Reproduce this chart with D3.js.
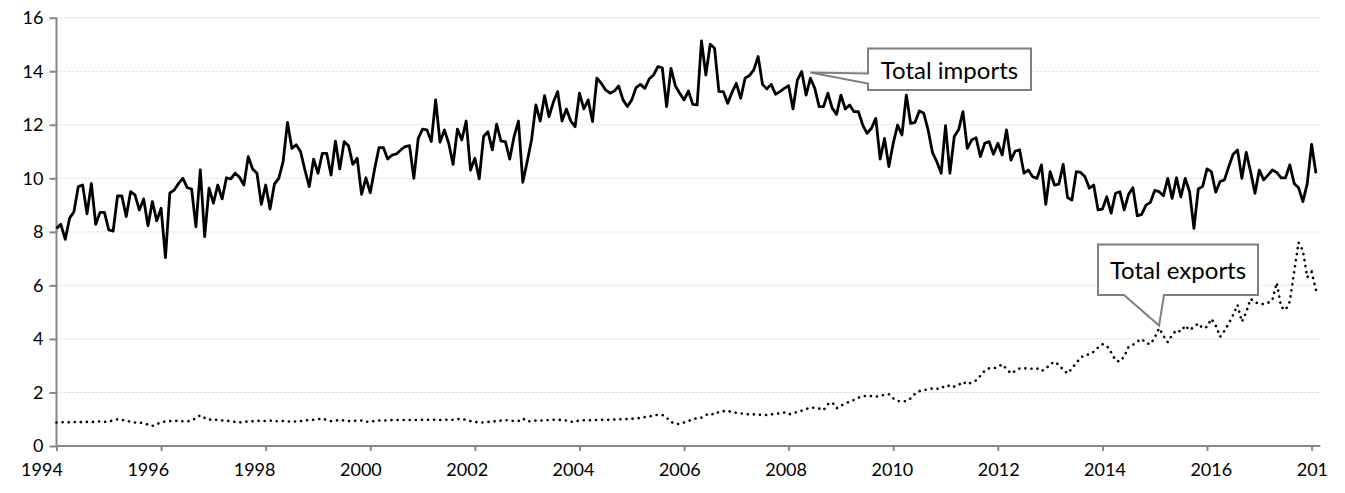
<!DOCTYPE html>
<html><head><meta charset="utf-8">
<script src="https://cdn.jsdelivr.net/npm/d3@7"></script>
<style>html,body{margin:0;padding:0;background:#fff;overflow:hidden}</style>
</head><body>
<script>
// Monthly data, Jan 1994 .. Feb 2018
const startYear = 1994;
const yTicks = [0,2,4,6,8,10,12,14,16];
const xTickYears = [1994,1996,1998,2000,2002,2004,2006,2008,2010,2012,2014,2016,2018];
const seriesNames = ["Total imports","Total exports"];
const imports = [
8.13,8.28,7.72,8.51,8.75,9.69,9.75,8.67,9.81,8.28,8.73,8.73,
8.07,8.03,9.34,9.34,8.57,9.50,9.38,8.82,9.23,8.23,9.13,8.41,
8.88,7.04,9.45,9.56,9.81,10.0,9.65,9.60,8.19,10.31,7.82,9.63,
9.07,9.75,9.23,10.02,9.98,10.19,10.04,9.75,10.81,10.35,10.19,9.03,
9.75,8.85,9.78,10.0,10.62,12.09,11.12,11.25,11.0,10.31,9.69,10.72,
10.19,10.93,10.93,10.12,11.39,10.35,11.37,11.22,10.52,10.75,9.40,10.02,
9.46,10.35,11.15,11.15,10.72,10.87,10.91,11.06,11.18,11.22,10.0,11.49,
11.84,11.81,11.37,12.93,11.35,11.81,11.31,10.52,11.84,11.43,12.14,10.31,
10.75,9.98,11.56,11.74,11.06,12.02,11.39,11.37,10.72,11.56,12.14,9.85,
10.62,11.43,12.74,12.14,13.09,12.30,12.84,13.24,12.14,12.59,12.14,11.93,
13.18,12.59,12.93,12.12,13.74,13.55,13.30,13.18,13.26,13.45,12.93,12.68,
12.93,13.39,13.51,13.36,13.71,13.86,14.17,14.13,12.68,14.11,13.46,13.18,
12.93,13.26,12.76,12.74,15.13,13.86,15.01,14.86,13.24,13.24,12.80,13.21,
13.55,12.99,13.74,13.84,14.05,14.55,13.51,13.34,13.51,13.14,13.24,13.36,
13.46,12.59,13.67,13.99,13.11,13.74,13.36,12.68,12.68,13.18,12.62,12.39,
13.11,12.59,12.74,12.49,12.49,11.99,11.68,11.87,12.24,10.72,11.49,10.44,
11.31,11.99,11.62,13.11,12.05,12.09,12.52,12.43,11.81,10.97,10.62,10.19,
11.97,10.19,11.56,11.81,12.49,11.12,11.43,11.52,10.81,11.31,11.37,10.90,
11.31,10.87,11.81,10.68,11.02,11.06,10.19,10.31,10.06,10.0,10.50,9.03,
10.25,9.75,9.78,10.52,9.28,9.19,10.25,10.22,10.06,9.63,9.75,8.82,
8.85,9.31,8.70,9.44,9.50,8.82,9.40,9.65,8.60,8.65,9.00,9.10,
9.55,9.50,9.35,10.0,9.25,10.02,9.30,10.0,9.50,8.13,9.60,9.70,
10.35,10.25,9.48,9.88,9.94,10.44,10.90,11.06,10.0,10.97,10.25,9.44,
10.31,9.94,10.12,10.31,10.22,10.02,10.02,10.50,9.81,9.65,9.13,9.80,
11.27,10.19
];
const exports = [
0.88,0.88,0.90,0.88,0.90,0.88,0.90,0.90,0.90,0.90,0.92,0.90,
0.92,0.95,1.00,0.97,0.95,0.90,0.88,0.88,0.85,0.80,0.75,0.82,
0.88,0.92,0.93,0.93,0.95,0.92,0.92,0.95,1.05,1.15,1.05,0.98,
1.00,0.97,0.95,0.95,0.92,0.90,0.88,0.90,0.92,0.92,0.93,0.95,
0.93,0.95,0.92,0.93,0.93,0.92,0.90,0.92,0.93,0.95,0.97,0.98,
1.00,1.03,0.97,0.93,0.95,0.97,0.95,0.93,0.93,0.95,0.95,0.90,
0.92,0.93,0.95,0.95,0.95,0.97,0.97,0.97,0.97,0.97,0.97,0.97,
0.98,0.98,0.98,0.98,0.97,0.98,0.98,0.98,1.00,1.02,0.97,0.93,
0.90,0.88,0.88,0.90,0.92,0.92,0.95,0.97,0.95,0.93,0.93,1.03,
0.92,0.93,0.95,0.95,0.95,0.97,0.98,0.98,0.97,0.95,0.90,0.92,
0.95,0.96,0.96,0.97,0.97,0.98,0.98,0.98,0.99,1.00,1.00,1.01,
1.02,1.03,1.05,1.08,1.10,1.15,1.16,1.16,1.06,0.90,0.83,0.82,
0.88,0.93,1.00,1.04,1.06,1.16,1.22,1.17,1.28,1.30,1.31,1.27,
1.24,1.22,1.19,1.18,1.18,1.17,1.16,1.16,1.18,1.20,1.22,1.25,
1.18,1.22,1.28,1.32,1.38,1.43,1.43,1.40,1.34,1.56,1.63,1.41,
1.51,1.58,1.66,1.72,1.81,1.85,1.88,1.86,1.84,1.88,1.91,1.93,
1.78,1.68,1.66,1.68,1.78,1.95,2.05,2.09,2.12,2.15,2.13,2.22,
2.18,2.28,2.22,2.28,2.40,2.30,2.38,2.45,2.62,2.82,2.90,2.90,
2.95,3.05,2.88,2.71,2.80,2.90,2.90,2.90,2.88,2.90,2.80,2.88,
3.05,3.15,3.03,2.85,2.71,2.90,3.10,3.30,3.40,3.42,3.52,3.68,
3.80,3.75,3.50,3.20,3.15,3.35,3.70,3.78,3.90,4.00,3.85,3.80,
4.05,4.40,4.12,3.88,4.15,4.33,4.27,4.50,4.33,4.45,4.58,4.40,
4.45,4.75,4.50,4.08,4.30,4.58,4.90,5.27,4.64,5.00,5.50,5.37,
5.32,5.30,5.35,5.45,6.10,5.20,5.08,5.40,6.50,7.60,7.30,6.30,
6.50,5.83
];
// callout anchors (month index) for the labels
const calloutIndex = [173, 253];

const W = 1327, H = 493;
const svg = d3.select("body").append("svg").attr("width", W).attr("height", H)
  .style("font-family","Lato, 'Open Sans', sans-serif");

const x = d3.scaleLinear().domain([0, 288]).range([56.5, 1311.6]);
const y = d3.scaleLinear().domain([0, 16]).range([446, 17.7]);
// year labels sit slightly offset from the tick marks in the original
const xLab = d3.scaleLinear().domain([1994, 2018]).range([42, 1317.6]);
const xEnd = x(290);

// gridlines
svg.append("g").selectAll("line").data(yTicks.filter(d=>d>0)).join("line")
  .attr("x1", x(0)).attr("x2", xEnd)
  .attr("y1", d=>y(d)).attr("y2", d=>y(d))
  .attr("stroke","#d4d4d4").attr("stroke-width",1).attr("stroke-dasharray","2,2");

// y axis
const yAxis = d3.axisLeft(y).tickValues(yTicks).tickSize(7).tickPadding(6).tickFormat(d3.format("d"));
const gy = svg.append("g").attr("transform",`translate(${x(0)},0)`).call(yAxis);
gy.select(".domain").remove();
gy.append("line").attr("x1",0).attr("x2",0).attr("y1",y(0)).attr("y2",y(16)).attr("stroke","#878787").attr("stroke-width",2);
gy.selectAll(".tick line").attr("stroke","#878787").attr("stroke-width",2);
gy.selectAll(".tick text").attr("fill","#000").style("font-size","18px").style("font-family","Lato, sans-serif");

// x axis (tick marks)
const xAxis = d3.axisBottom(x).tickValues(xTickYears.map(yr => (yr-startYear)*12))
  .tickSize(5).tickFormat("");
const gx = svg.append("g").attr("transform",`translate(0,${y(0)})`).call(xAxis);
gx.select(".domain").remove();
gx.append("line").attr("x1",x(0)).attr("x2",xEnd).attr("y1",0).attr("y2",0).attr("stroke","#878787").attr("stroke-width",2);
gx.selectAll(".tick line").attr("stroke","#878787").attr("stroke-width",2);
// x labels
svg.append("g").selectAll("text").data(xTickYears).join("text")
  .attr("x", d=>xLab(d)).attr("y", 476).attr("text-anchor","middle")
  .style("font-size","18px").attr("fill","#000").text(d=>String(d));

const line = d3.line().x((d,i)=>x(i)).y(d=>y(d));

svg.append("path").datum(exports).attr("d", line)
  .attr("fill","none").attr("stroke","#000").attr("stroke-width",2.6)
  .attr("stroke-linecap","round").attr("stroke-dasharray","0.1,6");

svg.append("path").datum(imports).attr("d", line)
  .attr("fill","none").attr("stroke","#000").attr("stroke-width",2.8)
  .attr("stroke-linejoin","round");

// callouts
function callout(bx, by, bw, bh, pts, text){
  const g = svg.append("g");
  const p = d3.path();
  pts(p, bx, by, bw, bh);
  g.append("path").attr("d", p.toString()).attr("fill","#fff").attr("stroke","#7f7f7f").attr("stroke-width",2);
  g.append("text").attr("x", bx+bw/2).attr("y", by+bh/2).attr("text-anchor","middle")
    .attr("dominant-baseline","central").style("font-size","24px").attr("fill","#000").text(text);
}
const ti = [x(calloutIndex[0]) , y(13.95)];
callout(868, 48.5, 163, 41.5, (p,bx,by,bw,bh)=>{
  p.moveTo(bx,by); p.lineTo(bx+bw,by); p.lineTo(bx+bw,by+bh); p.lineTo(bx,by+bh);
  p.lineTo(bx,by+35); p.lineTo(ti[0], ti[1]); p.lineTo(bx,by+25); p.closePath();
}, seriesNames[0]);
const te = [x(calloutIndex[1]), y(4.5)];
callout(1098, 244.5, 160, 50.5, (p,bx,by,bw,bh)=>{
  p.moveTo(bx,by); p.lineTo(bx+bw,by); p.lineTo(bx+bw,by+bh);
  p.lineTo(1164, by+bh); p.lineTo(te[0], te[1]); p.lineTo(1124, by+bh);
  p.lineTo(bx,by+bh); p.closePath();
}, seriesNames[1]);
</script>
</body></html>
